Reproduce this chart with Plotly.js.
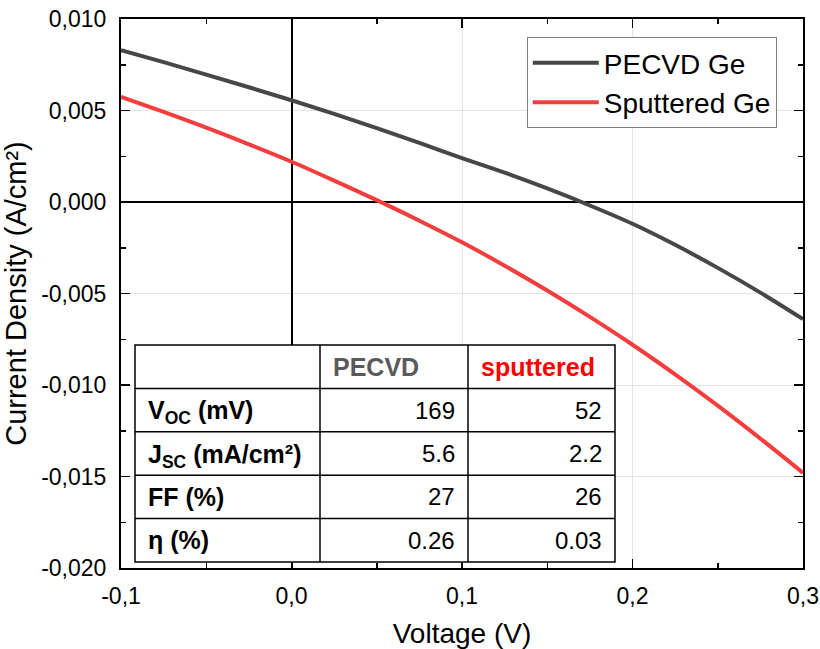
<!DOCTYPE html>
<html>
<head>
<meta charset="utf-8">
<script src="https://cdn.plot.ly/plotly-3.0.1.min.js"></script>
<style>html,body{margin:0;padding:0;background:#fff;}#chart{width:820px;height:649px;}</style>
</head>
<body>
<div id="chart"></div>
<script>
// Voltage (V)
const voltage = [-0.1, -0.075, -0.05, -0.025, 0, 0.025, 0.05, 0.075, 0.1, 0.125, 0.15, 0.175, 0.2, 0.225, 0.25, 0.275, 0.3];
// Current density (A/cm²)
const pecvdJ = [0.0083, 0.00764, 0.00696, 0.00627, 0.00556, 0.00482, 0.00404, 0.00323, 0.0024, 0.0016, 0.00074, -0.00019, -0.00119, -0.00234, -0.0036, -0.00495, -0.0064];
const sputteredJ = [0.00575, 0.00492, 0.00406, 0.00315, 0.0022, 0.00117, 0.0001, -0.00102, -0.0022, -0.00348, -0.00484, -0.00628, -0.0078, -0.00942, -0.01113, -0.01293, -0.0148];

const seriesNames = ['PECVD Ge', 'Sputtered Ge'];

const xTickVals = [-0.1, 0.0, 0.1, 0.2, 0.3];
const xTickText = ['-0,1', '0,0', '0,1', '0,2', '0,3'];
const yTickVals = [0.010, 0.005, 0.000, -0.005, -0.010, -0.015, -0.020];
const yTickText = ['0,010', '0,005', '0,000', '-0,005', '-0,010', '-0,015', '-0,020'];

// Inset table
const tableHeader = ['', 'PECVD', 'sputtered'];
const tableRowLabels = ['V<sub>OC</sub> (mV)', 'J<sub>SC</sub> (mA/cm²)', 'FF (%)', 'η (%)'];
const pecvdParams = ['169', '5.6', '27', '0.26'];
const sputteredParams = ['52', '2.2', '26', '0.03'];

const FONT = 'Arial, "Liberation Sans", sans-serif';
const GRAY = '#474747';
const RED = '#f43e3e';
const HEADER_COLORS = ['black', '#5a5a5a', '#ff0000'];

// plot-area geometry (pixels) used to place the inset table in paper coordinates
const PLOT = {l: 121, t: 19, w: 682, h: 549};
const TABLE = {left: 135, top: 345, colWidths: [185, 148, 147], rowHeight: 43.4, pad: 11};
const px2x = px => (px - PLOT.l) / PLOT.w;
const py2y = py => 1 - (py - PLOT.t) / PLOT.h;

const tableRows = [tableHeader].concat(tableRowLabels.map((lab, i) => [lab, pecvdParams[i], sputteredParams[i]]));
const nRows = tableRows.length;
const colEdges = [TABLE.left];
TABLE.colWidths.forEach(w => colEdges.push(colEdges[colEdges.length - 1] + w));
const tableRight = colEdges[colEdges.length - 1];
const tableBottom = TABLE.top + nRows * TABLE.rowHeight;

const shapes = [{
  type: 'rect', xref: 'paper', yref: 'paper', layer: 'above',
  x0: px2x(TABLE.left), x1: px2x(tableRight), y0: py2y(tableBottom), y1: py2y(TABLE.top),
  fillcolor: 'white', line: {color: 'black', width: 1.5}
}];
for (let r = 1; r < nRows; r++) {
  const yy = py2y(TABLE.top + r * TABLE.rowHeight);
  shapes.push({type: 'line', xref: 'paper', yref: 'paper', layer: 'above',
    x0: px2x(TABLE.left), x1: px2x(tableRight), y0: yy, y1: yy, line: {color: 'black', width: 1.5}});
}
for (let c = 1; c < colEdges.length - 1; c++) {
  const xx = px2x(colEdges[c]);
  shapes.push({type: 'line', xref: 'paper', yref: 'paper', layer: 'above',
    x0: xx, x1: xx, y0: py2y(tableBottom), y1: py2y(TABLE.top), line: {color: 'black', width: 1.5}});
}

const annotations = [];
tableRows.forEach((row, r) => {
  const yMid = py2y(TABLE.top + (r + 0.5) * TABLE.rowHeight);
  row.forEach((txt, c) => {
    if (!txt) return;
    const isHeader = r === 0;
    const leftAligned = isHeader || c === 0;
    const bold = isHeader || c === 0;
    annotations.push({
      xref: 'paper', yref: 'paper', showarrow: false,
      x: leftAligned ? px2x(colEdges[c] + TABLE.pad) : px2x(colEdges[c + 1] - TABLE.pad),
      y: yMid, xanchor: leftAligned ? 'left' : 'right', yanchor: 'middle',
      yshift: (txt.indexOf('<sub>') >= 0) ? -2 : 0,
      text: bold ? '<b>' + txt + '</b>' : txt,
      font: {family: FONT, size: bold ? 25 : 24, color: isHeader ? HEADER_COLORS[c] : 'black'}
    });
  });
});

const traces = [
  {
    type: 'scatter', mode: 'lines', name: seriesNames[0],
    x: voltage, y: pecvdJ,
    line: {color: GRAY, width: 4, shape: 'spline', smoothing: 1}
  },
  {
    type: 'scatter', mode: 'lines', name: seriesNames[1],
    x: voltage, y: sputteredJ,
    line: {color: RED, width: 4, shape: 'spline', smoothing: 1}
  }
];

const layout = {
  width: 820, height: 649,
  margin: {l: PLOT.l, r: 820 - PLOT.l - PLOT.w, t: PLOT.t, b: 649 - PLOT.t - PLOT.h},
  paper_bgcolor: 'white', plot_bgcolor: 'white',
  font: {family: FONT, color: 'black', size: 23},
  showlegend: true,
  legend: {
    x: 0.595, y: 0.967, xanchor: 'left', yanchor: 'top',
    bgcolor: 'white', bordercolor: '#808080', borderwidth: 1,
    font: {family: FONT, size: 28, color: 'black'},
    tracegroupgap: 0, itemwidth: 66
  },
  shapes: shapes,
  annotations: annotations,
  xaxis: {
    range: [-0.1, 0.3],
    tickmode: 'array', tickvals: xTickVals, ticktext: xTickText,
    ticks: 'inside', ticklen: 9, tickwidth: 1.5, tickcolor: 'black',
    minor: {dtick: 0.05, tick0: 0, ticks: 'inside', ticklen: 5, tickwidth: 1.5, tickcolor: 'black', showgrid: false},
    showline: true, linecolor: 'black', linewidth: 2, mirror: 'ticks',
    showgrid: true, gridcolor: '#e4e4e4', gridwidth: 1,
    zeroline: true, zerolinecolor: 'black', zerolinewidth: 2,
    ticklabelstandoff: 6,
    tickfont: {family: FONT, size: 23, color: 'black'},
    title: {text: 'Voltage (V)', font: {family: FONT, size: 28, color: 'black'}, standoff: 16}
  },
  yaxis: {
    range: [-0.020, 0.010],
    tickmode: 'array', tickvals: yTickVals, ticktext: yTickText,
    ticks: 'inside', ticklen: 9, tickwidth: 1.5, tickcolor: 'black',
    minor: {dtick: 0.0025, tick0: 0, ticks: 'inside', ticklen: 5, tickwidth: 1.5, tickcolor: 'black', showgrid: false},
    showline: true, linecolor: 'black', linewidth: 2, mirror: 'ticks',
    showgrid: true, gridcolor: '#e4e4e4', gridwidth: 1,
    zeroline: true, zerolinecolor: 'black', zerolinewidth: 2,
    ticklabelstandoff: 8,
    tickfont: {family: FONT, size: 23, color: 'black'},
    title: {text: 'Current Density (A/cm²)', font: {family: FONT, size: 29, color: 'black'}, standoff: 7}
  }
};

Plotly.newPlot('chart', traces, layout, {displayModeBar: false, staticPlot: true});
</script>
</body>
</html>
